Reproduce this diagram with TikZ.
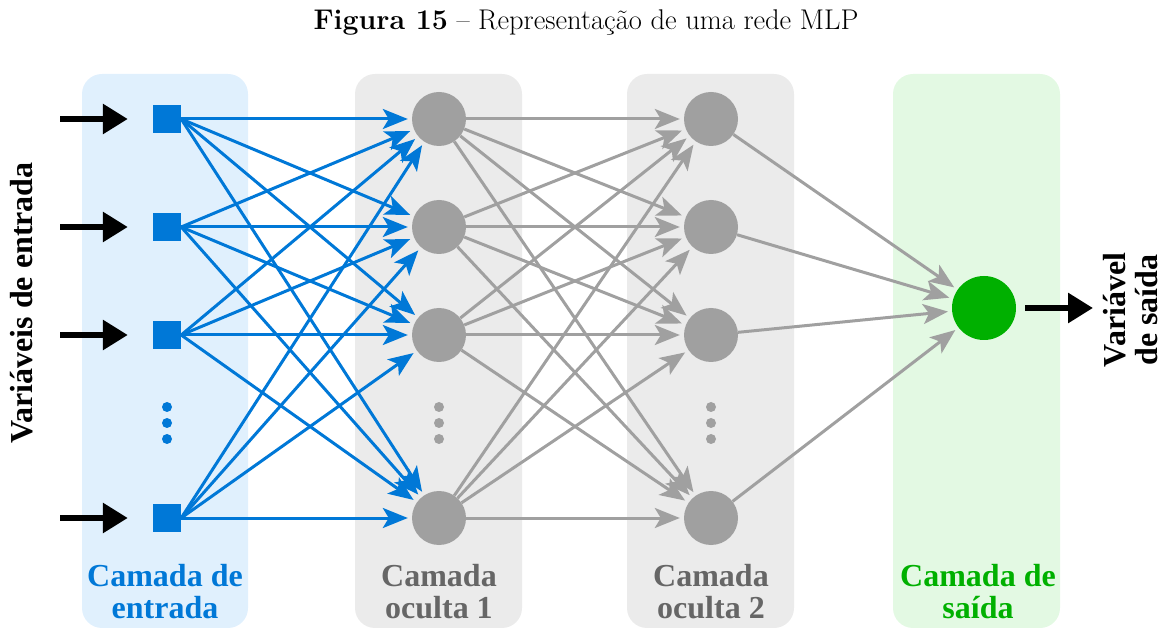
\documentclass[tikz,border=0pt]{standalone}
\usepackage{fontspec}
\usetikzlibrary{arrows.meta}
\newfontfamily\labfont{Liberation Serif}
\definecolor{cblue}{RGB}{0,120,215}
\definecolor{bgblue}{RGB}{224,240,253}
\definecolor{bggray}{RGB}{235,235,235}
\definecolor{cgray}{RGB}{160,160,160}
\definecolor{labgray}{RGB}{102,102,102}
\definecolor{cgreen}{RGB}{0,176,0}
\definecolor{bggreen}{RGB}{227,249,227}

\begin{document}
\begin{tikzpicture}[x=1pt,y=1pt]
            \tikzstyle{every node}+=[inner sep=0pt]
            \tikzstyle{layerbox}=[rounded corners=20pt]
            \tikzstyle{inbox}=[fill=cblue, minimum size=28pt]
            \tikzstyle{hid}=[circle, fill=cgray, minimum size=54pt]
            \tikzstyle{outnode}=[circle, fill=cgreen, minimum size=64pt]
            \tikzstyle{lab}=[font=\labfont\bfseries\fontsize{32}{32}\selectfont, align=center]
            \tikzstyle{blink}=[draw=cblue, line width=3pt, -{Stealth[length=25pt,width=20pt,inset=6pt]}, shorten >=4pt]
            \tikzstyle{glink}=[draw=cgray, line width=3pt, -{Stealth[length=25pt,width=20pt,inset=6pt]}, shorten >=4pt]
            \tikzstyle{bigarrow}=[draw=black, line width=6pt, -{Triangle[length=25pt,width=29pt]}]
            \useasboundingbox (0,0) rectangle (1163,-628);
            % title
            \node (title) at (586,-22) {\fontsize{28.5}{32}\selectfont\textbf{Figura 15} -- Representação de uma rede MLP};
            % layer backgrounds
            \fill [bgblue, layerbox] (82,-74) rectangle (248,-628);
            \fill [bggray, layerbox] (355,-74) rectangle (522,-628);
            \fill [bggray, layerbox] (627,-74) rectangle (794,-628);
            \fill [bggreen, layerbox] (893,-74) rectangle (1060,-628);
            % nodes
            \node [inbox] (i1) at (167,-119) {};
            \node [inbox] (i2) at (167,-227) {};
            \node [inbox] (i3) at (167,-335) {};
            \node [inbox] (i4) at (167,-518) {};
            \node [hid] (a1) at (439,-119) {};
            \node [hid] (a2) at (439,-227) {};
            \node [hid] (a3) at (439,-335) {};
            \node [hid] (a4) at (439,-518) {};
            \node [hid] (b1) at (711,-119) {};
            \node [hid] (b2) at (711,-227) {};
            \node [hid] (b3) at (711,-335) {};
            \node [hid] (b4) at (711,-518) {};
            \node [outnode] (o) at (984,-308) {};
            % dots
            \fill [cblue] (167,-407) circle (5);
            \fill [cblue] (167,-423) circle (5);
            \fill [cblue] (167,-439) circle (5);
            \fill [cgray] (439,-407) circle (5);
            \fill [cgray] (439,-423) circle (5);
            \fill [cgray] (439,-439) circle (5);
            \fill [cgray] (711,-407) circle (5);
            \fill [cgray] (711,-423) circle (5);
            \fill [cgray] (711,-439) circle (5);
            % inputs and output
            \coordinate (e1) at (60,-119);
            \coordinate (e2) at (60,-227);
            \coordinate (e3) at (60,-335);
            \coordinate (e4) at (60,-518);
            \draw [bigarrow, shorten >=25pt] (e1) -- (i1.west);
            \draw [bigarrow, shorten >=25pt] (e2) -- (i2.west);
            \draw [bigarrow, shorten >=25pt] (e3) -- (i3.west);
            \draw [bigarrow, shorten >=25pt] (e4) -- (i4.west);
            \coordinate (s) at (1093,-308);
            \draw [bigarrow, shorten <=9pt] (o.east) -- (s);
            % input -> hidden 1
            \draw [blink] (i1.east) -- (a1);
            \draw [blink] (i1.east) -- (a2);
            \draw [blink] (i1.east) -- (a3);
            \draw [blink] (i1.east) -- (a4);
            \draw [blink] (i2.east) -- (a1);
            \draw [blink] (i2.east) -- (a2);
            \draw [blink] (i2.east) -- (a3);
            \draw [blink] (i2.east) -- (a4);
            \draw [blink] (i3.east) -- (a1);
            \draw [blink] (i3.east) -- (a2);
            \draw [blink] (i3.east) -- (a3);
            \draw [blink] (i3.east) -- (a4);
            \draw [blink] (i4.east) -- (a1);
            \draw [blink] (i4.east) -- (a2);
            \draw [blink] (i4.east) -- (a3);
            \draw [blink] (i4.east) -- (a4);
            % hidden 1 -> hidden 2
            \draw [glink] (a1) -- (b1);
            \draw [glink] (a1) -- (b2);
            \draw [glink] (a1) -- (b3);
            \draw [glink] (a1) -- (b4);
            \draw [glink] (a2) -- (b1);
            \draw [glink] (a2) -- (b2);
            \draw [glink] (a2) -- (b3);
            \draw [glink] (a2) -- (b4);
            \draw [glink] (a3) -- (b1);
            \draw [glink] (a3) -- (b2);
            \draw [glink] (a3) -- (b3);
            \draw [glink] (a3) -- (b4);
            \draw [glink] (a4) -- (b1);
            \draw [glink] (a4) -- (b2);
            \draw [glink] (a4) -- (b3);
            \draw [glink] (a4) -- (b4);
            % hidden 2 -> output
            \draw [glink] (b1) -- (o);
            \draw [glink] (b2) -- (o);
            \draw [glink] (b3) -- (o);
            \draw [glink] (b4) -- (o);
            % labels
            \node [lab, rotate=90] (vin) at (22,-303) {Variáveis de entrada};
            \node [lab, rotate=90] (vout) at (1131,-310) {Variável\\de saída};
            \node [lab, text=cblue] (l0) at (165,-592) {Camada de\\entrada};
            \node [lab, text=labgray] (l1) at (439,-592) {Camada\\oculta 1};
            \node [lab, text=labgray] (l2) at (711,-592) {Camada\\oculta 2};
            \node [lab, text=cgreen] (l3) at (978,-592) {Camada de\\saída};
        \end{tikzpicture}
\end{document}
